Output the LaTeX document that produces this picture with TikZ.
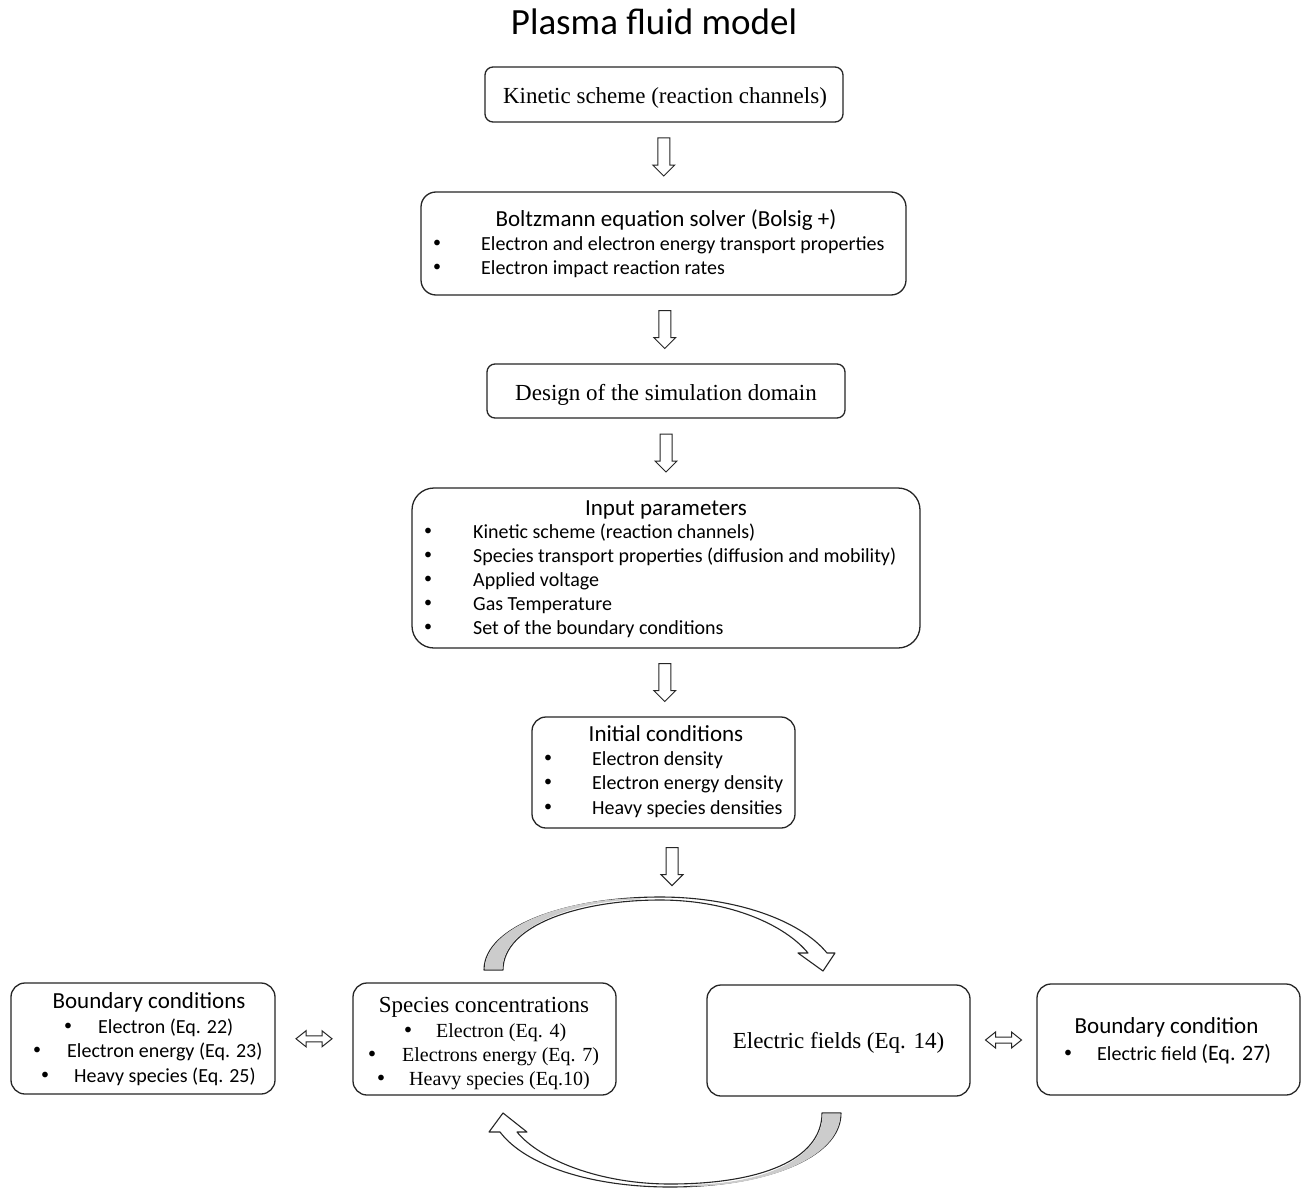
\documentclass[tikz,border=0pt]{standalone}
\usepackage{fontspec}
\setmainfont{Carlito}
\newfontfamily\tnr{Liberation Serif}
\usetikzlibrary{calc}
\tikzset{
  box/.style={draw=black!85, line width=1.3pt, fill=white, inner sep=0pt},
  cal/.style={inner sep=0pt, font=\fontsize{20}{24}\selectfont, text height=13pt, text depth=0pt},
  calt/.style={inner sep=0pt, font=\fontsize{23}{27}\selectfont, text height=15pt, text depth=0pt},
  tim/.style={inner sep=0pt, font=\tnr\fontsize{23}{27}\selectfont, text height=15pt, text depth=0pt},
  tims/.style={inner sep=0pt, font=\tnr\fontsize{20}{24}\selectfont, text height=13pt, text depth=0pt},
  lw/.style={anchor=west},
  bul/.style={inner sep=0pt, font=\fontsize{16}{18}\selectfont, anchor=center, text height=6.5pt, text depth=0pt},
  blk/.style={draw=black!85, line width=1pt, fill=white, line join=miter},
  downarr/.pic={\draw[blk] (-6,19) -- (-6,-8) -- (-11,-8) -- (0,-19) -- (11,-8) -- (6,-8) -- (6,19) -- cycle;},
  duoarr/.pic={\draw[blk] (-18,0) -- (-8,8) -- (-8,3) -- (8,3) -- (8,8) -- (18,0) -- (8,-8) -- (8,-3) -- (-8,-3) -- (-8,-8) -- cycle;}
}
\begin{document}
\begin{tikzpicture}[x=1pt,y=1pt]
\useasboundingbox (0,0) rectangle (1306,-1188);
\fill[white] (0,0) rectangle (1306,-1188);

% title
\node[inner sep=0pt, font=\fontsize{37}{42}\selectfont] (title) at (654,-22) {Plasma fluid model};

% boxes
\node[box, rounded corners=8pt, minimum width=358pt, minimum height=55pt] (k1) at (664,-94.5) {};
\node[box, rounded corners=15pt, minimum width=485pt, minimum height=103pt] (b2) at (663.5,-243.5) {};
\node[box, rounded corners=8pt, minimum width=358pt, minimum height=54pt] (d3) at (666,-391) {};
\node[box, rounded corners=22pt, minimum width=508pt, minimum height=160pt] (i4) at (666,-568) {};
\node[box, rounded corners=14pt, minimum width=263pt, minimum height=111pt] (ic) at (663.5,-772.5) {};
\node[box, rounded corners=14pt, minimum width=264pt, minimum height=111pt] (bl) at (143,-1038.5) {};
\node[box, rounded corners=14pt, minimum width=263pt, minimum height=112pt] (sp) at (484.5,-1039) {};
\node[box, rounded corners=14pt, minimum width=263pt, minimum height=111pt] (ef) at (838.5,-1040.5) {};
\node[box, rounded corners=14pt, minimum width=263pt, minimum height=111pt] (br) at (1168.5,-1039.5) {};

% box 1
\node[tim] (k1t) at (665,-96) {Kinetic scheme (reaction channels)};
% box 2
\node[calt] (b2t) at (666,-219) {Boltzmann equation solver (Bolsig +)};
\node[bul] (b2b1) at (437,-244) {•};
\node[cal,lw] (b2l1) at (481,-244) {Electron and electron energy transport properties};
\node[bul] (b2b2) at (437,-268) {•};
\node[cal,lw] (b2l2) at (481,-268) {Electron impact reaction rates};
% box 3
\node[tim] (d3t) at (666,-393) {Design of the simulation domain};
% box 4
\node[calt] (i4t) at (666,-508) {Input parameters};
\node[bul] (i4b1) at (428,-532) {•};
\node[cal,lw] (i4l1) at (473,-532) {Kinetic scheme (reaction channels)};
\node[bul] (i4b2) at (428,-556) {•};
\node[cal,lw] (i4l2) at (473,-556) {Species transport properties (diffusion and mobility)};
\node[bul] (i4b3) at (428,-580) {•};
\node[cal,lw] (i4l3) at (473,-580) {Applied voltage};
\node[bul] (i4b4) at (428,-604) {•};
\node[cal,lw] (i4l4) at (473,-604) {Gas Temperature};
\node[bul] (i4b5) at (428,-628) {•};
\node[cal,lw] (i4l5) at (473,-628) {Set of the boundary conditions};
% box 5
\node[calt] (ict) at (666,-734) {Initial conditions};
\node[bul] (icb1) at (548,-759) {•};
\node[cal,lw] (icl1) at (592,-759) {Electron density};
\node[bul] (icb2) at (548,-783) {•};
\node[cal,lw] (icl2) at (592,-783) {Electron energy density};
\node[bul] (icb3) at (548,-808) {•};
\node[cal,lw] (icl3) at (592,-808) {Heavy species densities};
% box left
\node[calt] (blt) at (149,-1001) {Boundary conditions};
\node[bul] (blb1) at (68,-1027) {•};
\node[cal,lw] (bll1) at (98,-1027) {Electron (Eq. 22)};
\node[bul] (blb2) at (37,-1051) {•};
\node[cal,lw] (bll2) at (67,-1051) {Electron energy (Eq. 23)};
\node[bul] (blb3) at (45,-1076) {•};
\node[cal,lw] (bll3) at (74,-1076) {Heavy species (Eq. 25)};
% species
\node[tim] (spt) at (484,-1005) {Species concentrations};
\node[bul] (spb1) at (408,-1031) {•};
\node[tims,lw] (spl1) at (436,-1031) {Electron (Eq. 4)};
\node[bul] (spb2) at (372,-1055) {•};
\node[tims,lw] (spl2) at (402,-1055) {Electrons energy (Eq. 7)};
\node[bul] (spb3) at (381,-1079) {•};
\node[tims,lw] (spl3) at (409,-1079) {Heavy species (Eq.10)};
% electric fields
\node[tim] (eft) at (838.5,-1041) {Electric fields (Eq. 14)};
% boundary right
\node[calt] (brt) at (1166.5,-1026) {Boundary condition};
\node[bul] (brb1) at (1068,-1054) {•};
\node[cal,lw] (brl1) at (1097,-1054) {Electric field {\fontsize{22}{24}\selectfont(Eq. 27)}};

% block arrows
\path ($(k1.south)!0.5!(b2.north)$) pic {downarr};
\path ($(b2.south)!0.5!(d3.north)$) pic {downarr};
\path ($(d3.south)!0.5!(i4.north)$) pic {downarr};
\path ($(i4.south)!0.5!(ic.north)$) pic {downarr};
\coordinate (a5) at ($(ic.south)+(8.5,-38)$);
\path (a5) pic {downarr};
\path ($(bl.east)!0.5!(sp.west)$) pic {duoarr};
\path ($(ef.east)!0.5!(br.west)$) pic {duoarr};

% curved arrow top (species -> electric fields)
\draw[blk, line width=1.1pt, line join=round]
  (484,-970) .. controls (484,-925) and (570,-897) .. (660,-897)
  .. controls (735,-897) and (800,-920) .. (827,-953)
  -- (835,-953) -- (823,-971) -- (798,-953) -- (808,-953)
  .. controls (785,-925) and (730,-900) .. (660,-900)
  .. controls (580,-900) and (503,-925) .. (503,-970) -- cycle;
\fill[black!20] (485,-969.4) .. controls (485,-925) and (570,-898) .. (640,-898.2)
  -- (640,-899.6) .. controls (580,-900) and (502.3,-925) .. (502.3,-969.4) -- cycle;
% curved arrow bottom (electric fields -> species)
\draw[blk, line width=1.1pt, line join=round]
  (841,-1113) .. controls (841,-1160) and (760,-1187) .. (670,-1187)
  .. controls (590,-1187) and (525,-1165) .. (500,-1132)
  -- (489,-1132) -- (503,-1113) -- (527,-1132) -- (517,-1132)
  .. controls (540,-1160) and (600,-1184) .. (670,-1184)
  .. controls (760,-1184) and (822,-1160) .. (822,-1113) -- cycle;
\fill[black!20] (840.3,-1113.6) .. controls (840.3,-1160) and (760,-1186.3) .. (690,-1186.3)
  -- (690,-1184.6) .. controls (760,-1184.6) and (822.7,-1160) .. (822.7,-1113.6) -- cycle;
\end{tikzpicture}
\end{document}
